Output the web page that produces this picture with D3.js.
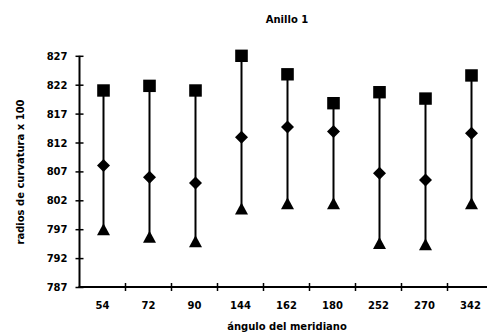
<!DOCTYPE html>
<html>
<head>
<meta charset="utf-8">
<script src="https://cdn.jsdelivr.net/npm/d3@7"></script>
<style>
  html, body { margin: 0; padding: 0; background: #fff; }
  svg { display: block; }
  text { font-family: "DejaVu Sans", sans-serif; font-weight: bold; fill: #000; }
</style>
</head>
<body>
<svg id="chart" width="487" height="335"></svg>
<script>
const categories = ["54", "72", "90", "144", "162", "180", "252", "270", "342"];
const maxValues  = [821, 821.8, 821, 827, 823.8, 818.8, 820.7, 819.6, 823.6];
const meanValues = [808, 806, 805, 812.9, 814.7, 813.9, 806.7, 805.5, 813.6];
const minValues  = [797, 795.7, 794.9, 800.6, 801.5, 801.5, 794.6, 794.4, 801.5];
const yTicks = [787, 792, 797, 802, 807, 812, 817, 822, 827];
const title = "Anillo 1";
const xTitle = "ángulo del meridiano";
const yTitle = "radios de curvatura x 100";

const svg = d3.select("#chart");
const mLeft = 79.5, mRight = 493.5, mTop = 55.8, mBottom = 287;

const x = d3.scaleBand().domain(categories).range([mLeft, mRight]).padding(0);
const y = d3.scaleLinear().domain([787, 827]).range([mBottom, mTop]);

// Title
svg.append("text").attr("x", 287).attr("y", 23).attr("text-anchor", "middle")
  .style("font-size", "10px").text(title);

// Y axis
const yAxis = svg.append("g").attr("transform", `translate(${mLeft},0)`)
  .call(d3.axisLeft(y).tickValues(yTicks).tickSize(4).tickPadding(8).tickFormat(d3.format("d")));
yAxis.select(".domain").remove();
yAxis.selectAll(".tick line").attr("x1", 4).attr("x2", -4).attr("stroke", "#000").attr("stroke-width", 1.5);
yAxis.selectAll(".tick text").style("font-size", "10px").attr("dy", "0.35em");
svg.append("line").attr("x1", mLeft).attr("x2", mLeft).attr("y1", y(827)).attr("y2", mBottom + 1)
  .attr("stroke", "#000").attr("stroke-width", 2);

// X axis
const xAxis = svg.append("g").attr("transform", `translate(0,${mBottom})`)
  .call(d3.axisBottom(x).tickSize(0).tickPadding(15));
xAxis.select(".domain").remove();
xAxis.selectAll(".tick text").style("font-size", "10px");
svg.append("line").attr("x1", mLeft - 1).attr("x2", mRight).attr("y1", mBottom).attr("y2", mBottom)
  .attr("stroke", "#000").attr("stroke-width", 2);
svg.append("g").selectAll("line").data(categories)
  .join("line")
  .attr("x1", d => x(d) + x.bandwidth()).attr("x2", d => x(d) + x.bandwidth())
  .attr("y1", mBottom - 4).attr("y2", mBottom + 4)
  .attr("stroke", "#000").attr("stroke-width", 1.5);

// Axis titles
svg.append("text").attr("x", 287).attr("y", 330).attr("text-anchor", "middle")
  .style("font-size", "10px").text(xTitle);
svg.append("text").attr("transform", "translate(24,172) rotate(-90)").attr("text-anchor", "middle")
  .style("font-size", "10px").text(yTitle);

// Data marks
const data = categories.map((c, i) => ({ c, max: maxValues[i], mean: meanValues[i], min: minValues[i] }));
const cx = d => x(d.c) + x.bandwidth() / 2 + 1;
const g = svg.append("g");
g.selectAll("line.rng").data(data).join("line").attr("class", "rng")
  .attr("x1", cx).attr("x2", cx).attr("y1", d => y(d.max)).attr("y2", d => y(d.min))
  .attr("stroke", "#000").attr("stroke-width", 2);
g.selectAll("rect.mx").data(data).join("rect").attr("class", "mx")
  .attr("x", d => cx(d) - 6.3).attr("y", d => y(d.max) - 6.2).attr("width", 12.6).attr("height", 12.4)
  .attr("fill", "#000");
g.selectAll("path.mn").data(data).join("path").attr("class", "mn")
  .attr("d", d => { const X = cx(d), Y = y(d.mean); return `M${X},${Y-6.5}L${X+6.5},${Y}L${X},${Y+6.5}L${X-6.5},${Y}Z`; })
  .attr("fill", "#000");
g.selectAll("path.mi").data(data).join("path").attr("class", "mi")
  .attr("d", d => { const X = cx(d), Y = y(d.min); return `M${X},${Y-6}L${X+6.5},${Y+6}L${X-6.5},${Y+6}Z`; })
  .attr("fill", "#000");
</script>
</body>
</html>
